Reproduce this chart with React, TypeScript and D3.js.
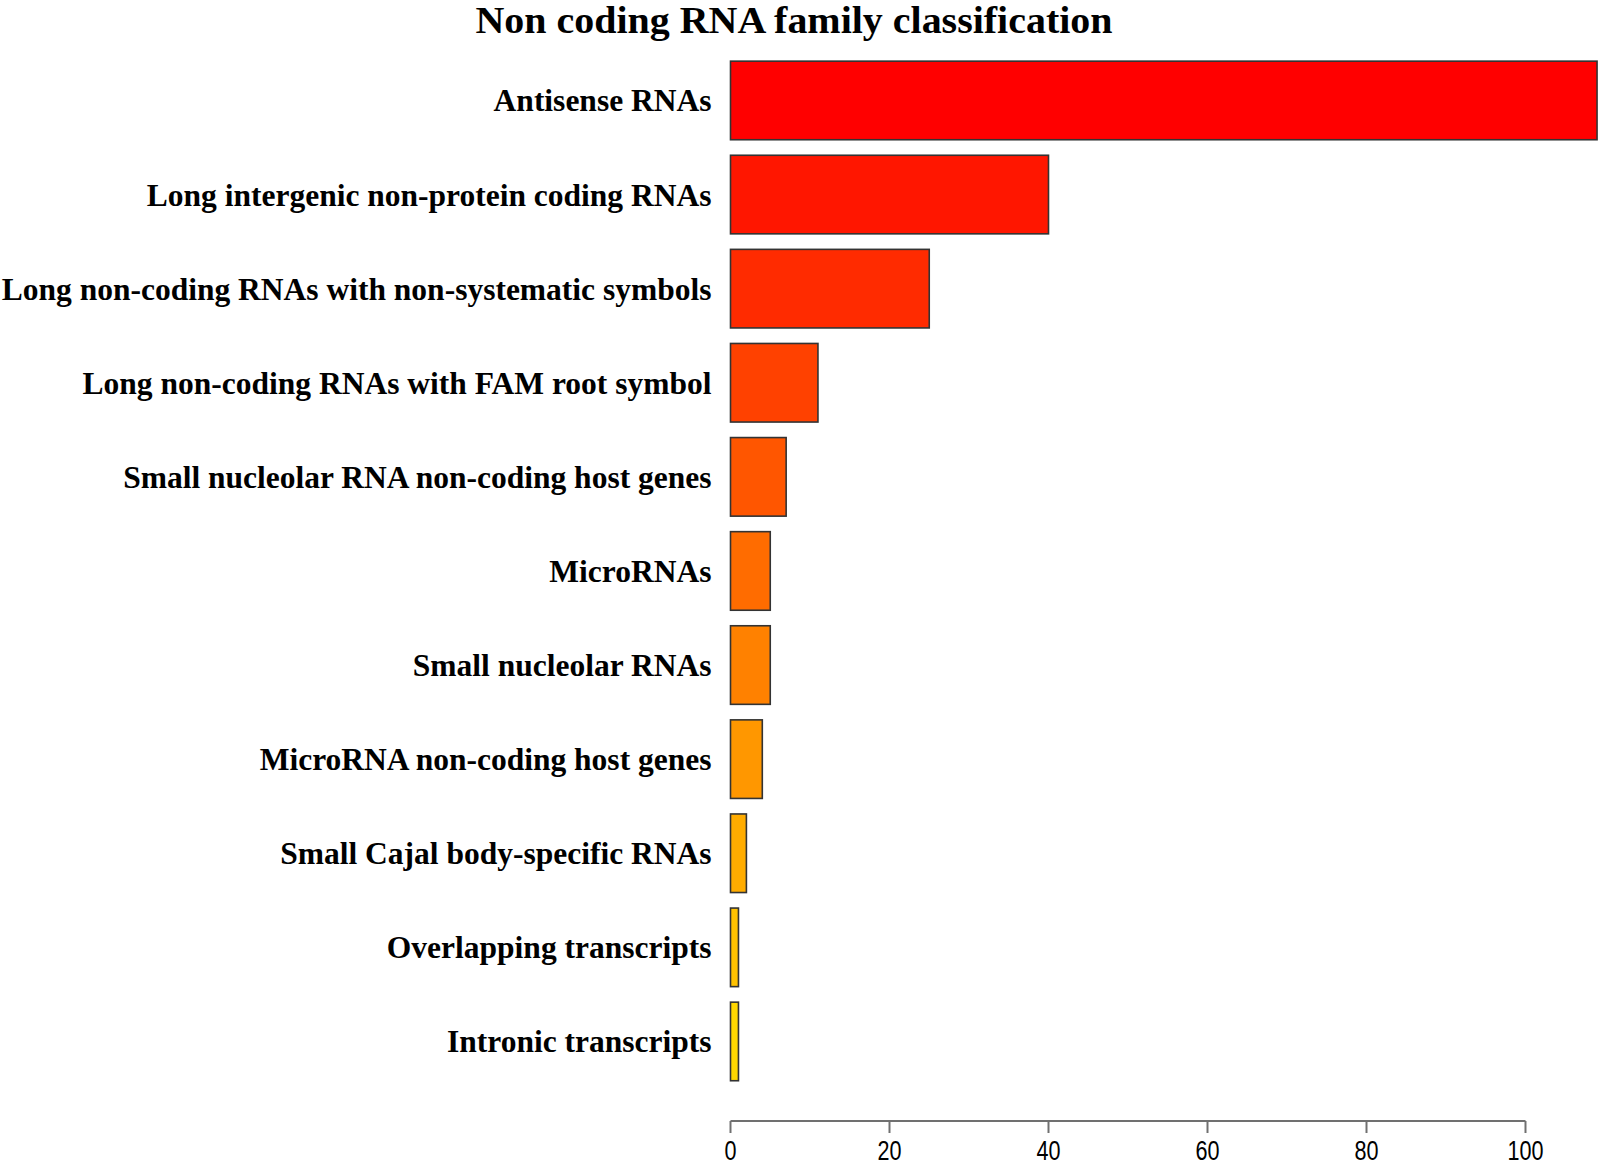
import React from 'react';
import * as d3 from 'd3';

// categories from top to bottom
const categories: string[] = [
  'Antisense RNAs',
  'Long intergenic non-protein coding RNAs',
  'Long non-coding RNAs with non-systematic symbols',
  'Long non-coding RNAs with FAM root symbol',
  'Small nucleolar RNA non-coding host genes',
  'MicroRNAs',
  'Small nucleolar RNAs',
  'MicroRNA non-coding host genes',
  'Small Cajal body-specific RNAs',
  'Overlapping transcripts',
  'Intronic transcripts',
];

const counts: number[] = [109, 40, 25, 11, 7, 5, 5, 4, 2, 1, 1];

const xTicks: number[] = [0, 20, 40, 60, 80, 100];

const title = 'Non coding RNA family classification';

const width = 1600;
const height = 1166;

const App: React.FC = () => {
  const x = d3.scaleLinear().domain([0, 100]).range([730.5, 1525.5]);

  const y = d3.scaleBand<string>()
    .domain(categories)
    .range([53.4, 1088.5])
    .paddingInner(0.165)
    .paddingOuter(0.0825);

  // red -> gold ramp, one colour per bar
  const color = d3.scaleLinear<string>()
    .domain([0, categories.length - 1])
    .range(['#ff0000', '#ffd700'])
    .interpolate(d3.interpolateRgb);

  const axisY = 1121;

  return (
    <svg
      width={width}
      height={height}
      style={{ position: 'absolute', left: 0, top: 0, background: '#fff' }}
    >
      <text
        transform="translate(794,33) scale(1.08,1)"
        textAnchor="middle"
        fontFamily="'Liberation Serif', 'Times New Roman', serif"
        fontWeight="bold"
        fontSize={37}
      >
        {title}
      </text>

      {categories.map((c, i) => (
        <g key={c}>
          <rect
            x={x(0)}
            y={y(c)}
            width={x(counts[i]) - x(0)}
            height={y.bandwidth()}
            fill={color(i)}
            stroke="#333"
            strokeWidth={1.6}
          />
          <text
            x={x(0) - 19}
            y={(y(c) ?? 0) + y.bandwidth() / 2}
            dy="0.35em"
            textAnchor="end"
            fontFamily="'Liberation Serif', 'Times New Roman', serif"
            fontWeight="bold"
            fontSize={31.5}
          >
            {c}
          </text>
        </g>
      ))}

      {/* x axis */}
      <line
        x1={x(0)}
        x2={x(100)}
        y1={axisY}
        y2={axisY}
        stroke="#707070"
        strokeWidth={2}
      />
      {xTicks.map((t) => (
        <g key={t}>
          <line
            x1={x(t)}
            x2={x(t)}
            y1={axisY}
            y2={axisY + 12}
            stroke="#707070"
            strokeWidth={2}
          />
          <text
            transform={`translate(${x(t)},1160) scale(0.8,1)`}
            textAnchor="middle"
            fontFamily="'Liberation Sans', Arial, sans-serif"
            fontSize={27}
          >
            {t}
          </text>
        </g>
      ))}
    </svg>
  );
};

export default App;
